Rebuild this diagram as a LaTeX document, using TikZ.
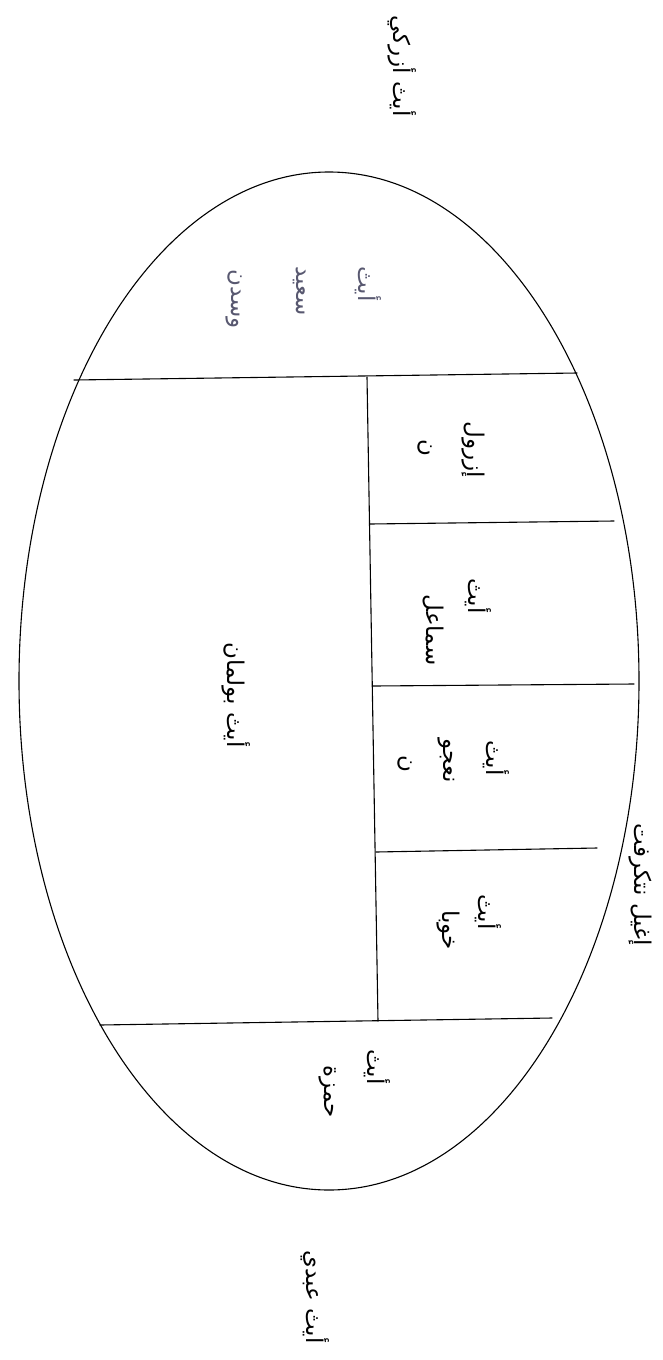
\documentclass[tikz,border=0pt]{standalone}
\usepackage{fontspec}
\newfontfamily\arabicfont[Script=Arabic]{DejaVu Sans}
\TeXXeTstate=1
\newcommand{\artxt}[1]{\arabicfont\beginR #1\endR}
\definecolor{capink}{RGB}{88,88,112}
\tikzset{
    lbl/.style={rotate=-90, inner sep=0pt, font=\fontsize{23}{27}\selectfont},
    caplbl/.style={lbl, text=capink},
    wall/.style={line width=1.1pt, line cap=round, line join=round}
}
\begin{document}
\begin{tikzpicture}[x=1pt, y=-1pt]
    \useasboundingbox[fill=white] (0,0) rectangle (662,1360);

    % Outline of the territory
    \draw[wall] (329,681) ellipse [x radius=310, y radius=509];

    % Division lines
    \draw[wall] (74,380) -- (577,373);
    \draw[wall] (100,1025) -- (552,1018);
    \draw[wall] (367,377) -- (378,1021);
    \draw[wall] (370,524) -- (614,521);
    \draw[wall] (373,686) -- (634,684);
    \draw[wall] (376,852) -- (597,848);

    % Labels outside
    \node[lbl] (north) at (402,66) {\artxt{أيث أزركي}};
    \node[lbl] (south) at (315,1297) {\artxt{أيث عبدي}};
    \node[lbl] (ighil) at (640,885) {\artxt{إغيل نتكرفت}};

    % Top part
    \node[caplbl] (said1) at (368,284) {\artxt{أيث}};
    \node[caplbl] (said2) at (300,291) {\artxt{سعيد}};
    \node[caplbl] (said3) at (234,299) {\artxt{وسدن}};

    % Large part
    \node[lbl] (boulman) at (236,695) {\artxt{أيث بولمان}};

    % Column of small parts
    \node[lbl] (izrul1) at (473,450) {\artxt{إزرول}};
    \node[lbl] (izrul2) at (425,448) {\artxt{ن}};
    \node[lbl] (smail1) at (478,596) {\artxt{أيث}};
    \node[lbl] (smail2) at (433,630) {\artxt{سماعل}};
    \node[lbl] (naju1) at (496,758) {\artxt{أيث}};
    \node[lbl] (naju2) at (446,761) {\artxt{نعجو}};
    \node[lbl] (naju3) at (405,764) {\artxt{ن}};
    \node[lbl] (khuba1) at (488,912) {\artxt{أيث}};
    \node[lbl] (khuba2) at (448,930) {\artxt{خوبا}};

    % Bottom part
    \node[lbl] (hamza1) at (377,1067) {\artxt{أيث}};
    \node[lbl] (hamza2) at (328,1092) {\artxt{حمزة}};
\end{tikzpicture}
\end{document}
